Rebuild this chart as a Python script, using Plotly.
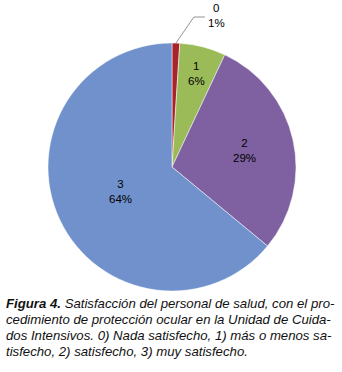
import math
import plotly.graph_objects as go

categories = ["0", "1", "2", "3"]
values = [1, 6, 29, 64]
colors = ["#A8232B", "#9BBB59", "#7F60A1", "#7091CC"]

caption_lines = [
    "<b>Figura 4.</b> Satisfacción del personal de salud, con el pro-",
    "cedimiento de protección ocular en la Unidad de Cuida-",
    "dos Intensivos. 0) Nada satisfecho, 1) más o menos sa-",
    "tisfecho, 2) satisfecho, 3) muy satisfecho.",
]

W, H = 342, 372
cx, cy, r = 172, 167, 124

fig = go.Figure(go.Pie(
    labels=categories,
    values=values,
    sort=False,
    direction="clockwise",
    rotation=0,
    marker=dict(colors=colors, line=dict(color="white", width=0.5)),
    textinfo="none",
    domain=dict(x=[(cx - r) / W, (cx + r) / W], y=[1 - (cy + r) / H, 1 - (cy - r) / H]),
    showlegend=False,
    hoverinfo="label+percent",
))

total = sum(values)
label_font = dict(family="Liberation Sans, Arial", size=11.5, color="#000000")
radial = [None, 0.78, 0.6, 0.46]
cum = 0
for i, (lab, v) in enumerate(zip(categories, values)):
    mid = (cum + v / 2) / total * 2 * math.pi
    cum += v
    pct = f"{round(v / total * 100)}%"
    if radial[i] is None:
        px0 = cx + r * math.sin(mid)
        py0 = cy - r * math.cos(mid)
        px1, py1 = px0 + 18, 17
        px2 = px1 + 11
        for (a, b, c, d) in [(px0, py0, px1, py1), (px1, py1, px2, py1)]:
            fig.add_shape(type="line", xref="paper", yref="paper",
                          x0=a / W, y0=1 - b / H, x1=c / W, y1=1 - d / H,
                          line=dict(color="#777777", width=0.8))
        fig.add_annotation(text=f"{lab}<br>{pct}", xref="paper", yref="paper",
                           x=(px2 + 12) / W, y=1 - 16 / H, xanchor="center", yanchor="middle",
                           showarrow=False, font=label_font)
    else:
        rr = r * radial[i]
        tx = cx + rr * math.sin(mid)
        ty = cy - rr * math.cos(mid)
        fig.add_annotation(text=f"{lab}<br>{pct}", xref="paper", yref="paper",
                           x=tx / W, y=1 - ty / H, xanchor="center", yanchor="middle",
                           showarrow=False, font=label_font)

for k, line in enumerate(caption_lines):
    yc = 303 + k * 16.3
    fig.add_annotation(
        text="<i>" + line + "</i>",
        xref="paper", yref="paper", x=4 / W, y=1 - yc / H,
        xanchor="left", yanchor="middle", align="left", showarrow=False,
        font=dict(family="Liberation Sans, Arial", size=13.2, color="#111111"),
    )

fig.update_layout(
    width=W, height=H,
    margin=dict(l=0, r=0, t=0, b=0),
    paper_bgcolor="white", plot_bgcolor="white",
)

fig.write_html("out.html", config={"displayModeBar": False},
               post_script="document.body.style.margin='0px';document.body.style.padding='0px';")
